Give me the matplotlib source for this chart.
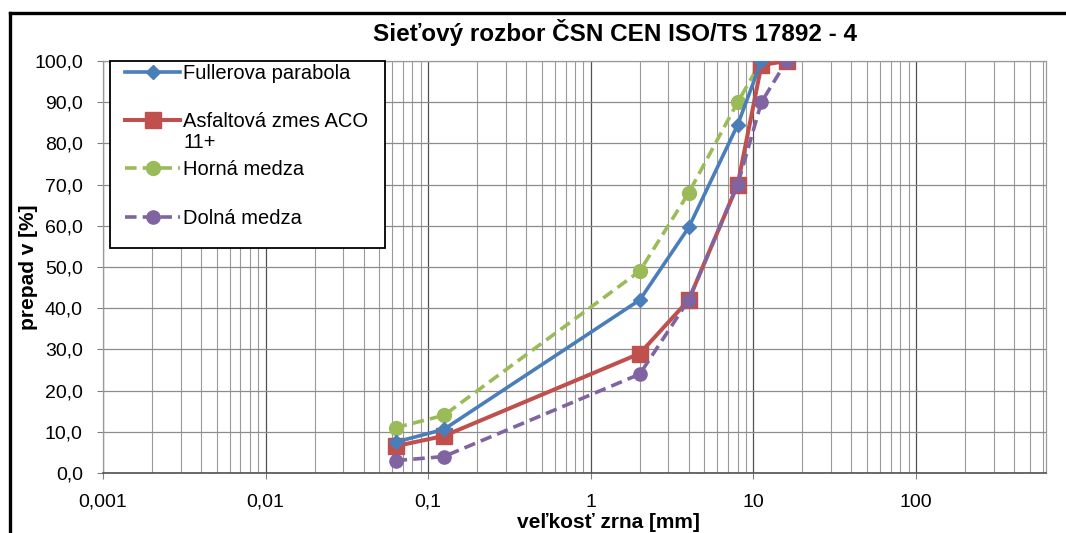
import matplotlib
matplotlib.use("Agg")
import matplotlib.pyplot as plt
from matplotlib.ticker import LogLocator, FuncFormatter, MultipleLocator, NullFormatter
from matplotlib.lines import Line2D
from matplotlib.patches import Rectangle

plt.rcParams['font.family'] = ['Liberation Sans', 'DejaVu Sans']

# ---- data ----
sieve_mm = [0.063, 0.125, 2, 4, 8, 11.2, 16]
fuller_x = [0.063, 0.125, 2, 4, 8, 11.2]
fuller_y = [7.5, 10.6, 42.0, 59.6, 84.5, 100.0]
mix_y = [6.5, 9.0, 29.0, 42.0, 70.0, 99.0, 100.0]
upper_x = [0.063, 0.125, 2, 4, 8, 11.2]
upper_y = [11.0, 14.0, 49.0, 68.0, 90.0, 100.0]
lower_y = [3.0, 4.0, 24.0, 42.0, 70.0, 90.0, 100.0]

labels = ["Fullerova parabola", "Asfaltová zmes ACO", "Horná medza", "Dolná medza"]
label_cont = "11+"
title = "Sieťový rozbor ČSN CEN ISO/TS 17892 - 4"
xlabel = "veľkosť zrna [mm]"
ylabel = "prepad v [%]"

c_blue = "#4A7EBB"
c_red = "#C0504D"
c_green = "#9BBB59"
c_purple = "#8064A2"

W, H = 1066, 533
fig = plt.figure(figsize=(W / 100, H / 100), dpi=100)
ax = fig.add_axes([103 / W, 1 - 473 / H, (1046 - 103) / W, (473 - 61) / H])

dash = (0, (3.2, 1.7))
l1, = ax.plot(fuller_x, fuller_y, color=c_blue, lw=2.6, marker="D", ms=7.5, zorder=5)
l2, = ax.plot(sieve_mm, mix_y, color=c_red, lw=2.9, marker="s", ms=11, zorder=4)
l3, = ax.plot(upper_x, upper_y, color=c_green, lw=2.6, ls=dash, marker="o", ms=10, zorder=3)
l4, = ax.plot(sieve_mm, lower_y, color=c_purple, lw=2.6, ls=dash, marker="o", ms=9.5, zorder=6)

ax.set_xscale("log")
ax.set_xlim(0.001, 630)
ax.set_ylim(0, 100)
ax.yaxis.set_major_locator(MultipleLocator(10))
ax.yaxis.set_major_formatter(FuncFormatter(lambda v, p: f"{v:.1f}".replace(".", ",")))


def xfmt(v, p):
    s = f"{v:g}"
    if v < 1:
        s = f"{v:.3f}".rstrip("0")
    return s.replace(".", ",")


ax.xaxis.set_major_locator(LogLocator(base=10, numticks=20))
ax.xaxis.set_major_formatter(FuncFormatter(xfmt))
ax.xaxis.set_minor_locator(LogLocator(base=10, subs=range(2, 10), numticks=100))
ax.xaxis.set_minor_formatter(NullFormatter())

ax.grid(True, which="major", axis="x", color="#505050", lw=0.9)
ax.grid(True, which="minor", axis="x", color="#9a9a9a", lw=0.8)
ax.grid(True, which="major", axis="y", color="#8c8c8c", lw=0.9)
ax.set_axisbelow(True)

ax.tick_params(axis="both", which="major", labelsize=14, length=4.5, width=0.8,
               color="#808080", direction="out")
ax.tick_params(axis="y", pad=10)
ax.tick_params(axis="x", pad=10.5)
ax.tick_params(axis="x", which="minor", length=0)
for s in ["top", "right", "left"]:
    ax.spines[s].set_color("#9a9a9a")
    ax.spines[s].set_linewidth(0.9)
ax.spines["bottom"].set_color("#505050")
ax.spines["bottom"].set_linewidth(1.2)

# legend: white box + entries
box = Rectangle((110 / W, 1 - 248 / H), 275 / W, 187 / H, transform=fig.transFigure,
                facecolor="white", edgecolor="black", lw=1.3, zorder=9, clip_on=False)
ax.add_patch(box)
leg = ax.legend([l1, l2, l3, l4], labels, loc="upper left",
                bbox_to_anchor=(125 / W, 1 - 64 / H), bbox_transform=fig.transFigure,
                fontsize=14.5, frameon=False, handlelength=2.75, handletextpad=0.15,
                labelspacing=1.45, borderpad=0.0, borderaxespad=0.0)
leg.set_zorder(10)
ax.annotate(label_cont, xy=(0, 0), xycoords=leg.get_texts()[1], xytext=(0, -1.5),
            textcoords="offset points", ha="left", va="top", fontsize=14.5, zorder=11,
            annotation_clip=False)

fig.text(615 / W, 1 - 32 / H, title, ha="center", va="center", fontsize=17.5, fontweight="bold")
fig.text(608 / W, 1 - 523 / H, xlabel, ha="center", va="center", fontsize=15, fontweight="bold")
fig.text(28 / W, 1 - 267 / H, ylabel, ha="center", va="center", rotation=90, fontsize=15,
         fontweight="bold")

# outer chart border
fig.add_artist(Line2D([9.5 / W, 9.5 / W], [0, 1 - 12.5 / H], color="black", lw=2.4,
                      transform=fig.transFigure, solid_capstyle="projecting"))
fig.add_artist(Line2D([9.5 / W, 1.0], [1 - 12.5 / H, 1 - 12.5 / H], color="black", lw=2.4,
                      transform=fig.transFigure, solid_capstyle="projecting"))

fig.savefig("out.png", dpi=100)
